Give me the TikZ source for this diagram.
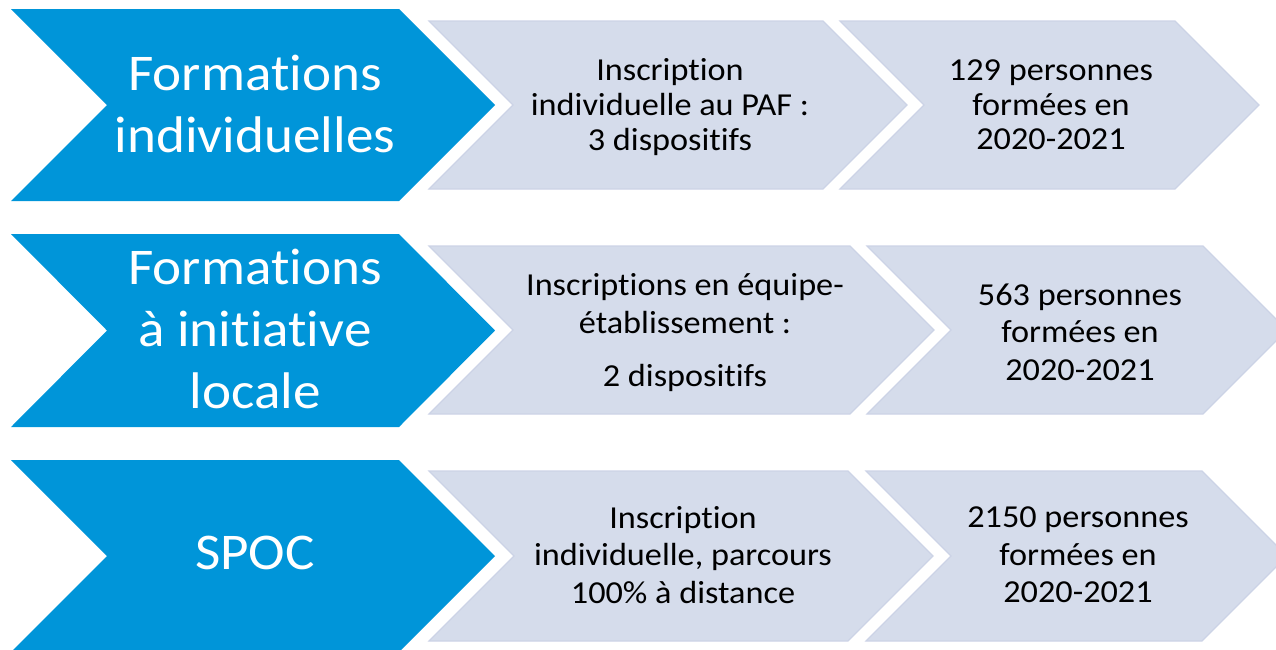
\documentclass[tikz,border=0pt]{standalone}
\usepackage{fontspec}
\setmainfont[Ligatures=NoCommon]{Carlito}
\newfontfamily\chevfont[Ligatures=NoCommon,FakeStretch=1.07]{Carlito}
\definecolor{chevblue}{HTML}{0095D9}
\definecolor{chevgray}{HTML}{D5DCEB}
\definecolor{chevedge}{HTML}{CCD3E6}
\newcommand{\chevpath}[6]{%
  % #1 style, #2 x1, #3 x2, #4 ytop, #5 ybot, #6 depth
  \path[#1] (#2,#4) -- (#3,#4) -- ({#3+#6},{(#4+#5)/2}) -- (#3,#5) -- (#2,#5) -- ({#2+#6},{(#4+#5)/2}) -- cycle;}
\begin{document}
\begin{tikzpicture}[x=1pt,y=-1pt,
  bluechev/.style={fill=chevblue},
  graychev/.style={fill=chevgray,draw=chevedge,line width=1.2pt},
  bluetext/.style={text=white,align=center,inner sep=0pt,font=\chevfont\fontsize{51.5}{62}\selectfont},
  graytext/.style={text=black,align=center,inner sep=0pt,font=\chevfont\fontsize{32}{#1}\selectfont},
  graytext/.default=37.5]
\useasboundingbox (0,0) rectangle (1276,649);
\begin{scope}
\clip (0,0) rectangle (1276,649);
% row 1
\chevpath{bluechev}{11}{399}{9}{201}{96}
\chevpath{graychev}{429}{823}{21}{189}{84}
\chevpath{graychev}{840}{1175}{21}{189}{84}
% row 2
\chevpath{bluechev}{11}{399}{234}{427}{96}
\chevpath{graychev}{429}{850}{246}{414}{84}
\chevpath{graychev}{867}{1203}{246}{414}{84}
% row 3
\chevpath{bluechev}{11}{399}{460}{652}{96}
\chevpath{graychev}{429}{848}{471}{641}{85}
\chevpath{graychev}{866}{1202}{471}{641}{85}
\end{scope}
% texts
\node[bluetext] (b1) at (255,104) {Formations\\individuelles};
\node[bluetext] (b2) at (255,329) {Formations\\à initiative\\locale};
\node[bluetext] (b3) at (255,553) {SPOC};
\node[graytext=35] (g11) at (670,107) {Inscription\\individuelle au PAF :\\3 dispositifs};
\node[graytext=34.5] (g12) at (1051,105) {129 personnes\\formées en\\2020-2021};
\node[graytext=38] (g21) at (685,332.5) {Inscriptions en équipe-\\établissement :\\[15pt]2 dispositifs};
\node[graytext] (g22) at (1080,332) {563 personnes\\formées en\\2020-2021};
\node[graytext] (g31) at (683,555) {Inscription\\individuelle, parcours\\100\% à distance};
\node[graytext] (g32) at (1078,555) {2150 personnes\\formées en\\2020-2021};
\end{tikzpicture}
\end{document}
